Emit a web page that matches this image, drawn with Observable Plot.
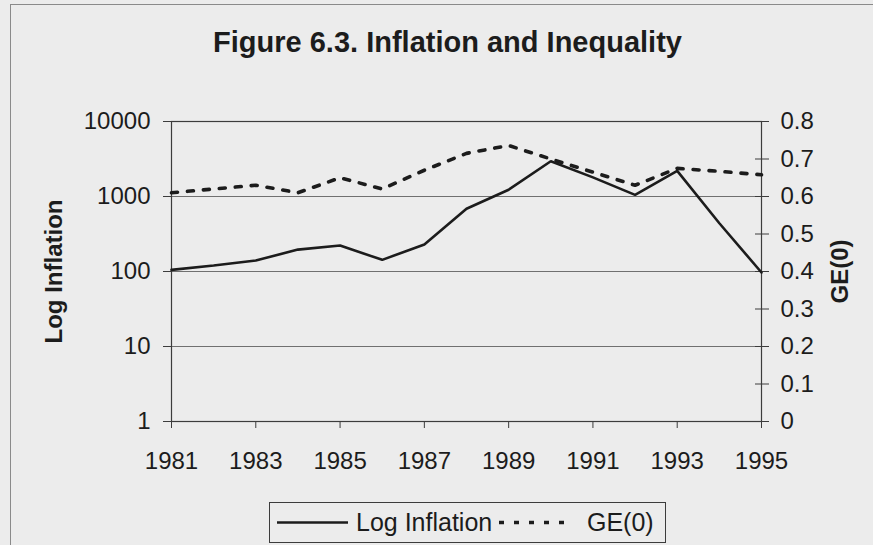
<!DOCTYPE html>
<html>
<head>
<meta charset="utf-8">
<script src="https://cdn.jsdelivr.net/npm/d3@7"></script>
<script src="https://cdn.jsdelivr.net/npm/@observablehq/plot@0.6"></script>
<style>
  html, body { margin: 0; padding: 0; background: #ececec; }
  #chart { position: relative; width: 873px; height: 545px; overflow: hidden; background: #ececec;
           font-family: "Liberation Sans", Arial, sans-serif; color: #1a1a1a; }
  #border { position: absolute; left: 10px; top: 4px; width: 900px; height: 600px;
            border-top: 1px solid #8a8a8a; border-left: 1px solid #8a8a8a; }
  #chart svg.plot { position: absolute; left: 0; top: 0; }
  #legend { position: absolute; left: 269px; top: 502px; }
</style>
</head>
<body>
<div id="chart"><div id="border"></div></div>
<script>
// Yearly observations, 1981–1995
const years = [1981, 1982, 1983, 1984, 1985, 1986, 1987, 1988, 1989, 1990, 1991, 1992, 1993, 1994, 1995];
// Annual inflation (%), plotted on a log scale (left axis)
const inflation = [105, 120, 140, 196, 222, 143, 229, 686, 1230, 2950, 1800, 1050, 2200, 440, 97];
// GE(0) inequality index (right axis)
const ge0 = [0.61, 0.62, 0.63, 0.61, 0.65, 0.62, 0.67, 0.715, 0.736, 0.70, 0.665, 0.63, 0.675, 0.667, 0.658];

// Axis ticks
const yearTicks = [1981, 1983, 1985, 1987, 1989, 1991, 1993, 1995];
const logTicks = [1, 10, 100, 1000, 10000];
const gridValues = [10, 100, 1000];
const geTicks = [0, 0.1, 0.2, 0.3, 0.4, 0.5, 0.6, 0.7, 0.8];

const titleText = "Figure 6.3. Inflation and Inequality";
const leftLabel = "Log Inflation";
const rightLabel = "GE(0)";
const seriesNames = ["Log Inflation", "GE(0)"];

// The right axis (0 … 0.8) shares the log y scale (1 … 10000): g ↦ 10^(5g)
const geToY = g => Math.pow(10, g * 5);

const rows = years.map((year, i) => ({year, inflation: inflation[i], ge: ge0[i]}));

const ink = "#1c1c1c";
const axisInk = "#3c3c3c";

const chart = Plot.plot({
  width: 873,
  height: 545,
  marginLeft: 171,
  marginRight: 112,
  marginTop: 121,
  marginBottom: 124,
  style: {background: "transparent", fontFamily: "'Liberation Sans', Arial, sans-serif", fontSize: "24px", color: ink},
  x: {domain: [1981, 1995]},
  y: {type: "log", domain: [1, 10000]},
  marks: [
    Plot.ruleY(gridValues, {stroke: "#707070", strokeWidth: 1}),
    Plot.frame({stroke: axisInk, strokeWidth: 1.2}),
    // left (log) axis
    Plot.axisY({ticks: logTicks, tickFormat: d3.format("d"), tickSize: 8, tickPadding: 13, label: null, stroke: axisInk}),
    // right axis: tick marks crossing the frame, labels in GE(0) units
    Plot.axisY({anchor: "right", ticks: geTicks.map(geToY), tickFormat: () => "", tickSize: 7, label: null, stroke: axisInk}),
    Plot.axisY({anchor: "right", ticks: geTicks.map(geToY), tickFormat: () => "", tickSize: -7, label: null, stroke: axisInk}),
    Plot.text(geTicks, {y: d => geToY(d), text: d => String(d), frameAnchor: "right", textAnchor: "start",
                        lineAnchor: "middle", dx: 19, fontSize: 24, fill: ink}),
    // bottom axis
    Plot.axisX({ticks: yearTicks, tickFormat: d3.format("d"), tickSize: 7, tickPadding: 23, label: null, stroke: axisInk}),
    // series
    Plot.line(rows, {x: "year", y: d => geToY(d.ge), stroke: ink, strokeWidth: 3.6, strokeDasharray: "6,10"}),
    Plot.line(rows, {x: "year", y: "inflation", stroke: ink, strokeWidth: 2.6, strokeLinejoin: "miter"}),
    // axis titles and chart title
    Plot.text([leftLabel], {frameAnchor: "left", rotate: -90, dx: -117, textAnchor: "middle", lineAnchor: "middle",
                            fontWeight: "bold", fontSize: 24, fill: ink}),
    Plot.text([rightLabel], {frameAnchor: "right", rotate: -90, dx: 79, textAnchor: "middle", lineAnchor: "middle",
                             fontWeight: "bold", fontSize: 24, fill: ink}),
    Plot.text([titleText], {frameAnchor: "top", dx: -19, dy: -79, textAnchor: "middle", lineAnchor: "middle",
                            fontWeight: "bold", fontSize: 29, fill: ink})
  ]
});
chart.classList.add("plot");
document.getElementById("chart").appendChild(chart);

// Legend: solid line for inflation, dashed for GE(0)
const legend = d3.select("#chart").append("svg")
  .attr("id", "legend").attr("width", 397).attr("height", 41)
  .style("font-family", "'Liberation Sans', Arial, sans-serif");
legend.append("rect").attr("x", 0.5).attr("y", 0.5).attr("width", 396).attr("height", 40)
  .attr("fill", "none").attr("stroke", axisInk);
legend.append("line").attr("x1", 8).attr("x2", 79).attr("y1", 20.5).attr("y2", 20.5)
  .attr("stroke", ink).attr("stroke-width", 2.6);
legend.append("text").attr("x", 87).attr("y", 20).attr("dy", "0.36em")
  .attr("font-size", 25).attr("fill", ink).text(seriesNames[0]);
legend.append("line").attr("x1", 230).attr("x2", 305).attr("y1", 20.5).attr("y2", 20.5)
  .attr("stroke", ink).attr("stroke-width", 3.6).attr("stroke-dasharray", "5,10");
legend.append("text").attr("x", 318).attr("y", 20).attr("dy", "0.36em")
  .attr("font-size", 25).attr("fill", ink).text(seriesNames[1]);
</script>
</body>
</html>
